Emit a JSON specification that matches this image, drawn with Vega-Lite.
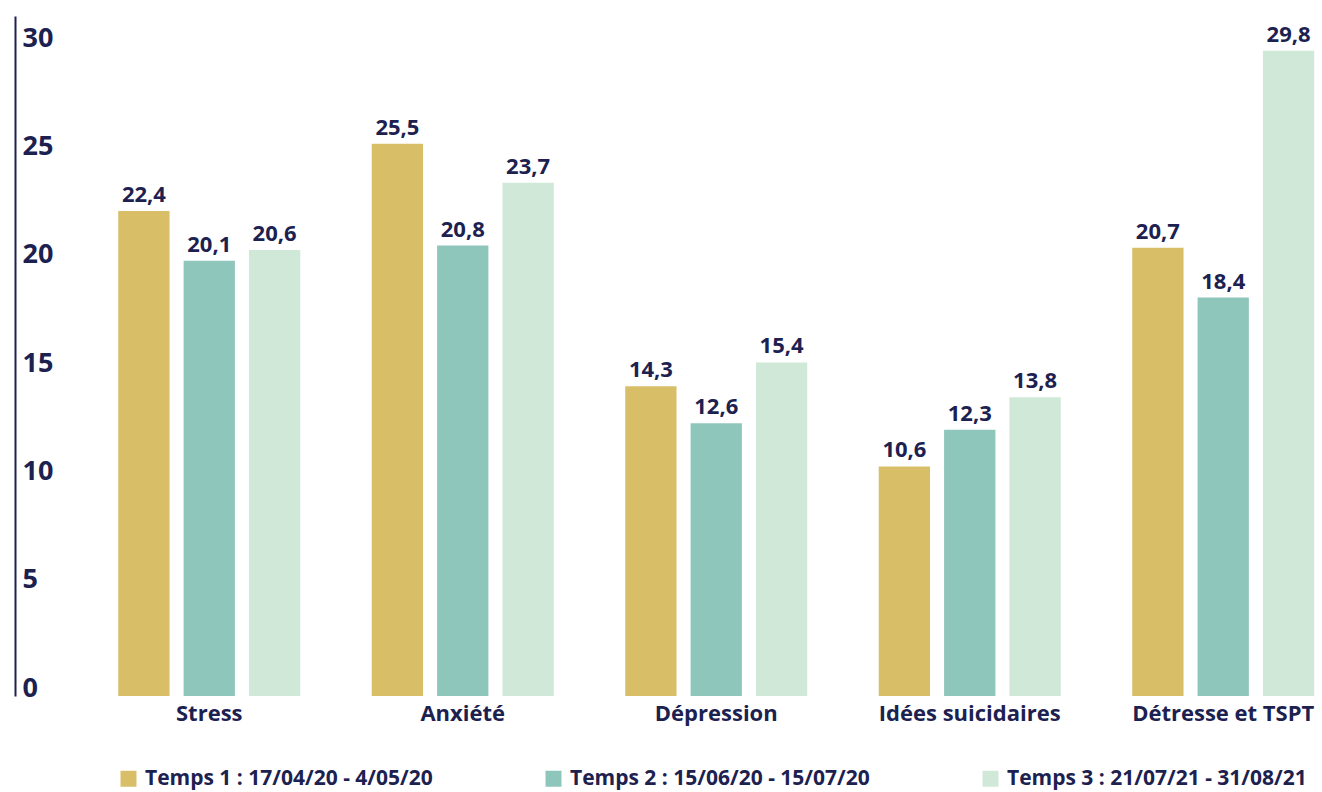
{
  "$schema": "https://vega.github.io/schema/vega-lite/v6.json",
  "autosize": {"type": "none"},
  "padding": {"left": 15, "top": 16, "right": 0, "bottom": 96},
  "width": 1307,
  "height": 680,
  "background": "white",
  "config": {
    "view": {"stroke": null},
    "font": "Open Sans",
    "locale": {"number": {"decimal": ",", "thousands": " ", "grouping": [3], "currency": ["", " €"]}}
  },
  "data": {
    "values": [
      {"categorie": "Stress", "temps": "Temps 1 : 17/04/20 - 4/05/20", "valeur": 22.4},
      {"categorie": "Stress", "temps": "Temps 2 : 15/06/20 - 15/07/20", "valeur": 20.1},
      {"categorie": "Stress", "temps": "Temps 3 : 21/07/21 - 31/08/21", "valeur": 20.6},
      {"categorie": "Anxiété", "temps": "Temps 1 : 17/04/20 - 4/05/20", "valeur": 25.5},
      {"categorie": "Anxiété", "temps": "Temps 2 : 15/06/20 - 15/07/20", "valeur": 20.8},
      {"categorie": "Anxiété", "temps": "Temps 3 : 21/07/21 - 31/08/21", "valeur": 23.7},
      {"categorie": "Dépression", "temps": "Temps 1 : 17/04/20 - 4/05/20", "valeur": 14.3},
      {"categorie": "Dépression", "temps": "Temps 2 : 15/06/20 - 15/07/20", "valeur": 12.6},
      {"categorie": "Dépression", "temps": "Temps 3 : 21/07/21 - 31/08/21", "valeur": 15.4},
      {"categorie": "Idées suicidaires", "temps": "Temps 1 : 17/04/20 - 4/05/20", "valeur": 10.6},
      {"categorie": "Idées suicidaires", "temps": "Temps 2 : 15/06/20 - 15/07/20", "valeur": 12.3},
      {"categorie": "Idées suicidaires", "temps": "Temps 3 : 21/07/21 - 31/08/21", "valeur": 13.8},
      {"categorie": "Détresse et TSPT", "temps": "Temps 1 : 17/04/20 - 4/05/20", "valeur": 20.7},
      {"categorie": "Détresse et TSPT", "temps": "Temps 2 : 15/06/20 - 15/07/20", "valeur": 18.4},
      {"categorie": "Détresse et TSPT", "temps": "Temps 3 : 21/07/21 - 31/08/21", "valeur": 29.8}
    ]
  },
  "encoding": {
    "x": {
      "field": "categorie",
      "type": "nominal",
      "sort": null,
      "scale": {"paddingInner": 0.282, "paddingOuter": 0.219, "align": 0.93},
      "axis": {
        "title": null,
        "domain": false,
        "ticks": false,
        "labelAngle": 0,
        "labelFontSize": 22,
        "labelFontWeight": "bold",
        "labelColor": "#1c2150",
        "labelPadding": 7,
        "labelLimit": 400,
        "labelFont": "Open Sans"
      }
    },
    "xOffset": {
      "field": "temps",
      "type": "nominal",
      "sort": null,
      "scale": {"paddingInner": 0.215, "paddingOuter": 0}
    },
    "y": {
      "field": "valeur",
      "type": "quantitative",
      "scale": {"domain": [0, 31.4], "nice": false},
      "axis": {
        "title": null,
        "values": [0, 5, 10, 15, 20, 25, 30],
        "grid": false,
        "ticks": false,
        "domainColor": "#1c2150",
        "domainWidth": 2,
        "labelAlign": "left",
        "labelBaseline": "alphabetic",
        "labelPadding": -7,
        "labelFontSize": 27,
        "labelFontWeight": "bold",
        "labelColor": "#1c2150",
        "labelFont": "Open Sans"
      }
    }
  },
  "layer": [
    {
      "mark": {"type": "bar"},
      "encoding": {
        "color": {
          "field": "temps",
          "type": "nominal",
          "sort": null,
          "scale": {
            "domain": ["Temps 1 : 17/04/20 - 4/05/20", "Temps 2 : 15/06/20 - 15/07/20", "Temps 3 : 21/07/21 - 31/08/21"],
            "range": ["#d9be68", "#8fc6bc", "#d0e8d8"]
          },
          "legend": {
            "title": null,
            "orient": "none",
            "legendX": 103,
            "legendY": 752,
            "direction": "horizontal",
            "columns": 3,
            "columnPadding": 110,
            "symbolType": "square",
            "symbolSize": 256,
            "symbolStrokeWidth": 0,
            "symbolOpacity": 1,
            "labelFontSize": 21,
            "labelFontWeight": "bold",
            "labelColor": "#1c2150",
            "labelFont": "Open Sans",
            "labelOffset": 6,
            "labelLimit": 500
          }
        }
      }
    },
    {
      "mark": {"type": "text", "baseline": "alphabetic", "dy": -9, "fontSize": 22, "fontWeight": "bold", "color": "#1c2150", "font": "Open Sans"},
      "encoding": {
        "text": {"field": "valeur", "type": "quantitative", "format": ".1f"}
      }
    }
  ]
}
